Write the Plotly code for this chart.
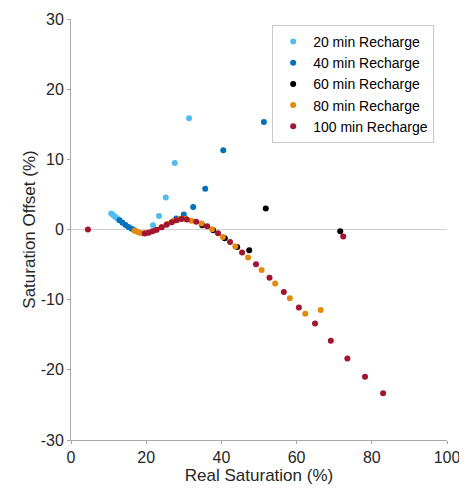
import plotly.graph_objects as go

# 20 min Recharge
x20 = [10.7, 11.2, 11.7, 12.25, 12.9, 21.8, 23.4, 25.2, 27.6, 31.4]
y20 = [2.29, 2.07, 1.83, 1.61, 1.33, 0.61, 1.94, 4.57, 9.47, 15.86]
# 40 min Recharge
x40 = [12.9, 13.7, 14.5, 15.3, 16.1, 16.9, 28.0, 30.0, 32.5, 35.7, 40.5, 51.3]
y40 = [1.33, 0.97, 0.64, 0.36, 0.11, -0.1, 1.57, 2.14, 3.19, 5.8, 11.29, 15.33]
# 60 min Recharge
x60 = [34.9, 37.8, 40.9, 44.2, 47.4, 51.8, 71.6]
y60 = [0.61, -0.1, -1.24, -2.49, -2.96, 3.0, -0.24]
# 80 min Recharge
x80 = [16.9, 17.7, 18.5, 19.6, 20.9, 22.5, 24.1, 25.7, 27.3, 28.9, 30.5, 32.0,
       34.7, 37.5, 40.4, 43.7, 47.1, 50.7, 54.3, 58.2, 62.3, 66.4]
y80 = [-0.17, -0.36, -0.49, -0.53, -0.39, -0.1, 0.33, 0.83, 1.26, 1.53, 1.53, 1.23,
       0.86, 0.04, -1.06, -2.43, -4.0, -5.77, -7.71, -9.81, -12.0, -11.49]
# 100 min Recharge
x100 = [4.5, 19.6, 20.6, 21.7, 22.8, 24.1, 25.4, 26.8, 28.1, 29.4, 30.8, 33.3, 36.2,
        39.1, 42.3, 45.5, 49.2, 52.8, 56.6, 60.6, 64.9, 69.1, 72.4, 73.5, 78.2, 83.0]
y100 = [0.0, -0.57, -0.46, -0.24, -0.03, 0.33, 0.69, 1.04, 1.33, 1.5, 1.43, 1.09, 0.47,
        -0.53, -1.77, -3.29, -4.96, -6.86, -8.91, -11.1, -13.39, -15.86, -1.0, -18.39,
        -21.0, -23.34]

x_ticks = [0, 20, 40, 60, 80, 100]
y_ticks = [-30, -20, -10, 0, 10, 20, 30]
y_tick_labels = ["-30", "-20", "-10", "0", "10", "20", "30"]

series = [
    ("20 min Recharge", x20, y20, "#4DBEEE"),
    ("40 min Recharge", x40, y40, "#0072BD"),
    ("60 min Recharge", x60, y60, "#000000"),
    ("80 min Recharge", x80, y80, "#E38A0C"),
    ("100 min Recharge", x100, y100, "#A2142F"),
]

fig = go.Figure()
for name, xs, ys, col in series:
    fig.add_trace(go.Scatter(x=xs, y=ys, mode="markers", name=name,
                             marker=dict(color=col, size=6, line=dict(width=0))))

font_family = "Liberation Sans, Arial, sans-serif"
# page body adds an 8px offset; the figure is sized to fit inside the window
fig.update_layout(
    width=459, height=484,
    margin=dict(l=63, r=20, t=11, b=52, autoexpand=False),
    paper_bgcolor="white", plot_bgcolor="white",
    font=dict(family=font_family, color="#262626", size=16),
    showlegend=True,
    legend=dict(x=0.535, y=0.986, xanchor="left", yanchor="top",
                bgcolor="white", bordercolor="#C8C8C8", borderwidth=1,
                font=dict(size=14, color="#000000"), itemsizing="trace",
                tracegroupgap=0, itemwidth=30),
    xaxis=dict(range=[0, 100], tickvals=x_ticks, automargin=False,
               showgrid=False, zeroline=False, showline=True, linecolor="#A8A8A8",
               linewidth=1, ticks="outside", ticklen=3, tickcolor="#A8A8A8",
               title=dict(text="Real Saturation (%)", font=dict(size=17), standoff=3),
               tickfont=dict(size=16)),
    yaxis=dict(range=[-30, 30], tickvals=y_ticks, ticktext=y_tick_labels, automargin=False,
               showgrid=False, zeroline=True, zerolinecolor="#CFCFCF", zerolinewidth=1,
               showline=True, linecolor="#A8A8A8", linewidth=1,
               ticks="outside", ticklen=3, tickcolor="#A8A8A8",
               title=dict(text="Saturation Offset (%)", font=dict(size=17), standoff=0),
               tickfont=dict(size=16)),
)

fig.write_html("out.html")
